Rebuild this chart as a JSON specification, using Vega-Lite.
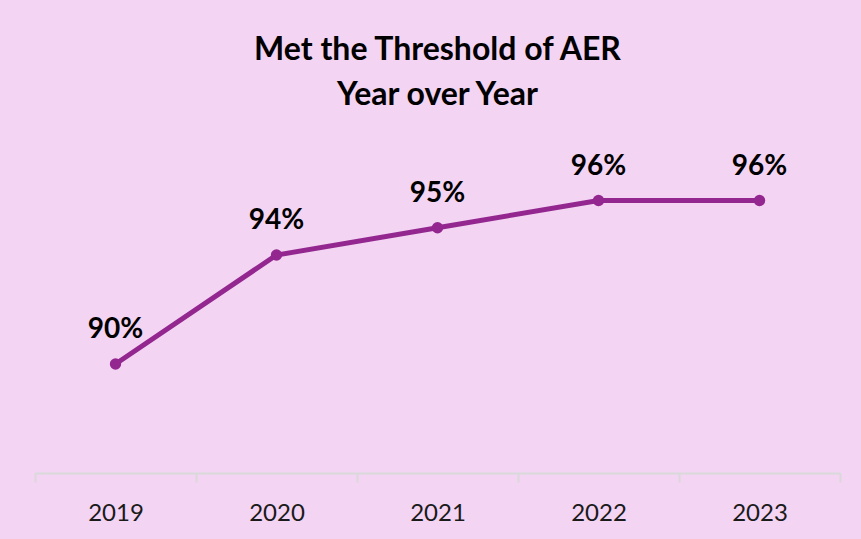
{
  "$schema": "https://vega.github.io/schema/vega-lite/v6.json",
  "autosize": "none",
  "width": 805,
  "height": 327,
  "padding": {"left": 35, "top": 146, "right": 21, "bottom": 66},
  "background": "#F3D4F3",
  "title": {
    "text": ["Met the Threshold of AER", "Year over Year"],
    "font": "Lato",
    "fontSize": 32,
    "fontWeight": "bold",
    "color": "#000000",
    "anchor": "middle",
    "frame": "group",
    "lineHeight": 45,
    "offset": 34
  },
  "config": {"view": {"stroke": null}},
  "data": {
    "values": [
      {"year": "2019", "value": 90, "label": "90%"},
      {"year": "2020", "value": 94, "label": "94%"},
      {"year": "2021", "value": 95, "label": "95%"},
      {"year": "2022", "value": 96, "label": "96%"},
      {"year": "2023", "value": 96, "label": "96%"}
    ]
  },
  "encoding": {
    "x": {
      "field": "year",
      "type": "ordinal",
      "scale": {"paddingInner": 0, "paddingOuter": 0},
      "axis": {
        "title": null,
        "labelAngle": 0,
        "labelFont": "Lato",
        "labelFontSize": 24,
        "labelColor": "#1a1a1a",
        "labelPadding": 19,
        "domainColor": "#D9D9D9",
        "domainWidth": 2,
        "tickColor": "#D9D9D9",
        "tickWidth": 2,
        "tickSize": 9,
        "tickBand": "extent"
      }
    },
    "y": {
      "field": "value",
      "type": "quantitative",
      "scale": {"domain": [86, 98], "zero": false},
      "axis": null
    }
  },
  "layer": [
    {"mark": {"type": "line", "color": "#93278F", "strokeWidth": 5}},
    {"mark": {"type": "point", "filled": true, "color": "#93278F", "size": 130, "opacity": 1}},
    {
      "mark": {"type": "text", "font": "Lato", "fontSize": 28, "fontWeight": "bold", "color": "#000000", "baseline": "alphabetic", "dy": -26},
      "encoding": {"text": {"field": "label"}}
    }
  ]
}
